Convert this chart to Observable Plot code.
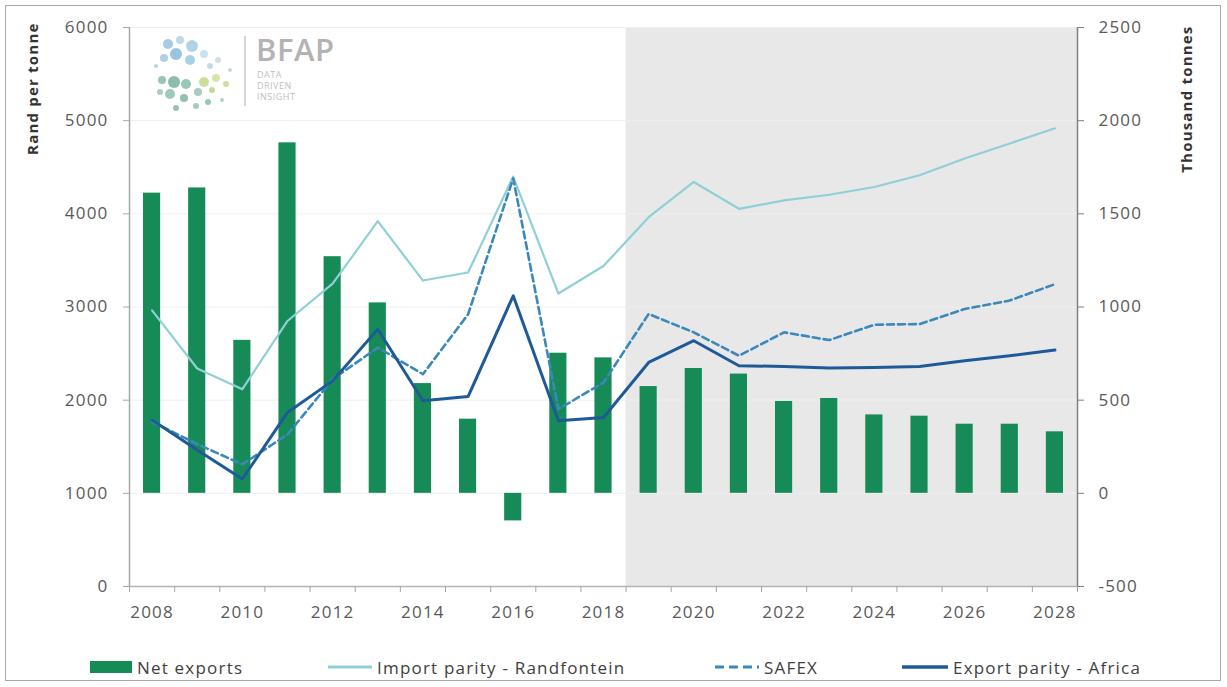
<!DOCTYPE html>
<html>
<head>
<meta charset="utf-8">
<script src="https://cdn.jsdelivr.net/npm/d3@7"></script>
<script src="https://cdn.jsdelivr.net/npm/@observablehq/plot@0.6"></script>
<style>
  html, body { margin: 0; padding: 0; background: #fff; }
  #wrap { position: relative; width: 1227px; height: 687px; overflow: hidden; font-family: "Open Sans", sans-serif; }
  #frame { position: absolute; left: 5px; top: 5px; width: 1216px; height: 676px; border: 1px solid #a9a9a9; box-sizing: border-box; pointer-events: none; }
  #legend { position: absolute; left: 0; top: 640px; width: 1227px; height: 47px; }
  .li { position: absolute; top: 16px; height: 22px; display: flex; align-items: center; font-size: 17px; letter-spacing: 1.2px; color: #404040; white-space: nowrap; }
  .li svg { margin-right: 5px; }
  #logo { position: absolute; left: 140px; top: 26px; }
</style>
</head>
<body>
<div id="wrap">
  <div id="chart"></div>
  <div id="logo"></div>
  <div id="legend"></div>
  <div id="frame"></div>
</div>
<script>
// ---- Data ----
const years = [2008,2009,2010,2011,2012,2013,2014,2015,2016,2017,2018,2019,2020,2021,2022,2023,2024,2025,2026,2027,2028];
const netExports = [1611,1639,821,1881,1270,1022,589,398,-148,752,727,573,670,640,493,509,421,414,371,371,330]; // thousand tonnes (right axis)
const importParity = [2964,2340,2118,2850,3250,3921,3284,3370,4400,3145,3440,3964,4342,4054,4144,4205,4288,4414,4594,4755,4918]; // Rand per tonne
const safex = [1768,1529,1311,1632,2225,2564,2279,2921,4380,1904,2189,2925,2728,2477,2728,2645,2810,2817,2978,3070,3245];
const exportParity = [1786,1464,1154,1868,2207,2761,1993,2039,3120,1779,1814,2405,2638,2369,2362,2344,2351,2362,2423,2477,2538];
const leftTicks = [0,1000,2000,3000,4000,5000,6000];
const xTickLabels = [2008,2010,2012,2014,2016,2018,2020,2022,2024,2026,2028];
const projectionStart = 2019;
const seriesNames = ["Net exports","Import parity - Randfontein","SAFEX","Export parity - Africa"];

// ---- Colours ----
const cBar = "#178b57", cImport = "#8fd0d8", cSafex = "#3b88bb", cExport = "#1f5a98";

// right axis value (thousand tonnes) -> left axis value (Rand per tonne)
const toLeft = v => 1000 + 2 * v;
const fromLeft = v => (v - 1000) / 2;

const bars = years.map((y, i) => ({year: y, net: netExports[i]}));
const line = arr => years.map((y, i) => ({year: y, v: arr[i]}));
const boundaries = d3.range(years[0] - 0.5, years[years.length - 1] + 1, 1);
const halfW = 0.19;

const chart = Plot.plot({
  width: 1227,
  height: 640,
  marginLeft: 129,
  marginRight: 150,
  marginTop: 27,
  marginBottom: 54,
  style: {fontFamily: "Open Sans", fontSize: "17px", letterSpacing: "1.2px", color: "#595959", background: "transparent"},
  x: {type: "linear", domain: [years[0] - 0.5, years[years.length - 1] + 0.5]},
  y: {domain: [0, 6000]},
  marks: [
    // projection shading
    Plot.rect([{x1: projectionStart - 0.5, x2: years[years.length - 1] + 0.5}], {x1: "x1", x2: "x2", y1: 0, y2: 6000, fill: "#e8e8e8"}),
    // gridlines
    Plot.ruleY(leftTicks.filter(d => d > 0), {stroke: "#efefef", strokeWidth: 1}),
    // bars
    Plot.rectY(bars, {x1: d => d.year - halfW, x2: d => d.year + halfW, y1: toLeft(0), y2: d => toLeft(d.net), fill: cBar}),
    // lines
    Plot.line(line(importParity), {x: "year", y: "v", stroke: cImport, strokeWidth: 2.2}),
    Plot.line(line(safex), {x: "year", y: "v", stroke: cSafex, strokeWidth: 2.6, strokeDasharray: "7,4"}),
    Plot.line(line(exportParity), {x: "year", y: "v", stroke: cExport, strokeWidth: 3}),
    // axes lines
    Plot.ruleY([0], {stroke: "#b3b3b3", strokeWidth: 1.5}),
    Plot.ruleX([years[0] - 0.5], {stroke: "#a6a6a6", strokeWidth: 1.5}),
    Plot.ruleX([years[years.length - 1] + 0.5], {stroke: "#808080", strokeWidth: 1.5}),
    // x axis: tick marks at band boundaries, labels on even years
    Plot.axisX({ticks: boundaries, tickSize: 6, tickFormat: () => "", stroke: "#a6a6a6", label: null}),
    Plot.axisX({ticks: xTickLabels, tickSize: 0, tickPadding: 19, tickFormat: d => String(d), fill: "#595959", label: null}),
    // left axis
    Plot.axisY({ticks: leftTicks, anchor: "left", tickSize: 6, tickPadding: 15, tickFormat: d => String(d), stroke: "#a6a6a6", fill: "#595959", label: null}),
    // right axis
    Plot.axisY({ticks: leftTicks, anchor: "right", tickSize: 6, tickPadding: 15, tickFormat: d => String(fromLeft(d)), stroke: "#808080", fill: "#595959", label: null}),
    // axis titles
    Plot.text(["Rand per tonne"], {frameAnchor: "top-left", dx: -96, dy: -5, rotate: -90, textAnchor: "end", lineAnchor: "middle", fontWeight: "bold", fontSize: 15, fill: "#333", text: d => d}),
    Plot.text(["Thousand tonnes"], {frameAnchor: "top-right", dx: 110, dy: -2, rotate: -90, textAnchor: "end", lineAnchor: "middle", fontWeight: "bold", fontSize: 15, fill: "#333", text: d => d})
  ]
});
document.getElementById("chart").appendChild(chart);

// ---- Legend ----
const legend = document.getElementById("legend");
const items = [
  {name: seriesNames[0], left: 90, sw: `<svg width="42" height="12"><rect x="0" y="0" width="42" height="12" fill="${cBar}"/></svg>`},
  {name: seriesNames[1], left: 328, sw: `<svg width="44" height="12"><line x1="0" x2="44" y1="6" y2="6" stroke="${cImport}" stroke-width="3"/></svg>`},
  {name: seriesNames[2], left: 715, sw: `<svg width="44" height="12"><line x1="0" x2="44" y1="6" y2="6" stroke="${cSafex}" stroke-width="3" stroke-dasharray="9,5"/></svg>`},
  {name: seriesNames[3], left: 902, sw: `<svg width="46" height="12"><line x1="0" x2="46" y1="6" y2="6" stroke="${cExport}" stroke-width="3.5"/></svg>`}
];
for (const it of items) {
  const d = document.createElement("div");
  d.className = "li";
  d.style.left = it.left + "px";
  d.innerHTML = it.sw + `<span>${it.name}</span>`;
  legend.appendChild(d);
}

// ---- Logo (decorative) ----
const dots = [
  [22,14,5,"#9cc7df"],[34,10,4,"#b5d6e6"],[46,16,6,"#a9cfe2"],[30,24,6,"#8dbfda"],[18,28,4,"#a7cbe0"],
  [44,30,5,"#9fcbe0"],[58,24,4,"#c4dde9"],[64,36,3,"#bcd7e6"],[72,30,3,"#c9dfe9"],[10,36,2,"#a9cfe2"],
  [16,50,4,"#8cbfae"],[28,52,6,"#7fb5a3"],[40,54,5,"#8ec1b2"],[24,64,5,"#93c3b4"],[38,68,4,"#86b9a9"],
  [52,62,4,"#9cc8b9"],[58,52,5,"#c5dc8d"],[70,48,4,"#cfe29c"],[66,60,3,"#bcd68b"],[80,54,3,"#c8dd97"],
  [14,62,3,"#9fcabc"],[50,76,3,"#9cc8b9"],[62,72,3,"#8fbfb0"],[30,78,3,"#88bcac"],[84,40,2,"#b7d5e4"],[76,70,2,"#a7cdc0"]
];
document.getElementById("logo").innerHTML = `
<svg width="210" height="90" style="font-family:'Open Sans',sans-serif">
  ${dots.map(([x,y,r,c]) => `<circle cx="${x+6}" cy="${y+4}" r="${r}" fill="${c}" opacity="0.9"/>`).join("")}
  <line x1="105" x2="105" y1="10" y2="80" stroke="#c8c8c8" stroke-width="1.5"/>
  <text x="116" y="35" font-size="31" font-weight="600" fill="#b3b3b3" letter-spacing="0.5">BFAP</text>
  <text x="117" y="52" font-size="9" fill="#c0c0c0" letter-spacing="0.5">DATA</text>
  <text x="117" y="63" font-size="9" fill="#c0c0c0" letter-spacing="0.5">DRIVEN</text>
  <text x="117" y="74" font-size="9" fill="#c0c0c0" letter-spacing="0.5">INSIGHT</text>
</svg>`;
</script>
</body>
</html>
